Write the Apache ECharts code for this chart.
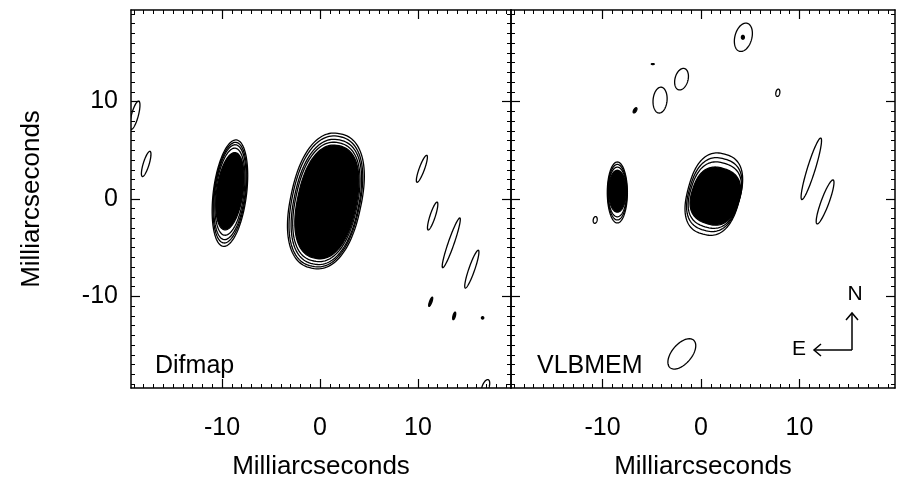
<!DOCTYPE html>
<html><head><meta charset="utf-8">
<script src="https://cdn.jsdelivr.net/npm/echarts@6/dist/echarts.min.js"></script>
<style>html,body{margin:0;padding:0;background:#fff}#c{width:903px;height:479px}</style>
</head><body><div id="c"></div>
<script>
// ---------- data ----------
const majorTicks = [-10, 0, 10];
const tickLabels = ['-10', '0', '10'];
const minorTicks = [-19,-18,-17,-16,-15,-14,-13,-12,-11,-9,-8,-7,-6,-5,-4,-3,-2,-1,1,2,3,4,5,6,7,8,9,11,12,13,14,15,16,17,18,19];
const axisTitle = 'Milliarcseconds';
const panelNames = ['Difmap', 'VLBMEM'];
const leftXRange = [-19.3, 19.5];
const rightXRange = [-19.3, 19.7];
const yRange = [-19.4, 19.4];

// contour shapes: [x, y, semi-major, semi-minor, position angle (deg, N through +x), filled, squareness (2 = ellipse)]
const difmapCores = [
  [0.7, -0.3, 5.9, 3.0, 12, 1, 2.3],
  [-9.2, 0.8, 4.0, 1.35, 8, 1, 2]
];
const difmapRings = [
  [0.65, -0.3, 6.2, 3.15, 12, 0, 2.3],
  [0.65, -0.3, 6.5, 3.3, 12, 0, 2.3],
  [0.6, -0.25, 6.8, 3.45, 12, 0, 2.3],
  [0.6, -0.2, 7.05, 3.6, 12, 0, 2.3],
  [-9.2, 0.75, 4.5, 1.45, 7, 0, 2],
  [-9.2, 0.7, 4.9, 1.55, 7, 0, 2],
  [-9.2, 0.65, 5.2, 1.62, 7, 0, 2],
  [-9.2, 0.6, 5.5, 1.7, 7, 0, 2]
];
const difmapSidelobes = [
  [-17.75, 3.6, 1.35, 0.3, 17, 0, 2],
  [-18.9, 8.6, 1.5, 0.35, 15, 0, 2],
  [10.4, 3.1, 1.47, 0.27, 20, 0, 2],
  [11.5, -1.75, 1.5, 0.27, 18, 0, 2],
  [13.4, -4.5, 2.7, 0.3, 19, 0, 2],
  [15.5, -7.2, 2.05, 0.3, 19, 0, 2],
  [11.3, -10.55, 0.5, 0.12, 20, 1, 2],
  [13.7, -12.0, 0.4, 0.12, 15, 1, 2],
  [16.6, -12.2, 0.12, 0.12, 0, 1, 2],
  [16.9, -19.3, 0.8, 0.35, 20, 0, 2]
];
const vlbmemCores = [
  [1.45, 0.3, 2.95, 2.4, 18, 1, 2.5],
  [-8.5, 0.8, 2.15, 0.9, 0, 1, 2]
];
const vlbmemRings = [
  [1.4, 0.4, 3.4, 2.5, 17, 0, 2.5],
  [1.35, 0.45, 3.8, 2.58, 16, 0, 2.5],
  [1.3, 0.5, 4.25, 2.66, 15, 0, 2.5],
  [-8.5, 0.72, 2.55, 0.95, 0, 0, 2],
  [-8.5, 0.7, 2.85, 0.98, 0, 0, 2],
  [-8.5, 0.67, 3.13, 1.02, 0, 0, 2]
];
const vlbmemSidelobes = [
  [-10.75, -2.15, 0.35, 0.2, 10, 0, 2],
  [4.3, 16.6, 1.49, 0.86, 15, 0, 2],
  [4.25, 16.6, 0.2, 0.15, 0, 1, 2],
  [-1.98, 12.3, 1.13, 0.66, 15, 0, 2],
  [-4.16, 10.15, 1.33, 0.71, 5, 0, 2],
  [-6.7, 9.1, 0.3, 0.14, 30, 1, 2],
  [7.8, 10.9, 0.38, 0.2, 10, 0, 2],
  [11.2, 3.1, 3.3, 0.4, 17, 0, 2],
  [12.6, -0.3, 2.4, 0.4, 20, 0, 2],
  [-1.95, -15.9, 1.85, 1.0, 40, 0, 2],
  [-4.9, 13.85, 0.15, 0.05, 90, 1, 2]
];

// ---------- chart ----------
const FONT = '"Liberation Sans", Arial, Helvetica, sans-serif';
const chart = echarts.init(document.getElementById('c'), null, {renderer: 'canvas'});

function spow(c, e) { return Math.sign(c) * Math.pow(Math.abs(c), e); }

function renderEllipse(params, api) {
  const cx = api.value(0), cy = api.value(1), a = api.value(2), b = api.value(3);
  const pa = api.value(4) * Math.PI / 180, filled = api.value(5), n = api.value(6) || 2;
  const pts = [];
  const N = 120;
  for (let i = 0; i < N; i++) {
    const t = 2 * Math.PI * i / N;
    const u = a * spow(Math.cos(t), 2 / n), v = b * spow(Math.sin(t), 2 / n);
    pts.push(api.coord([cx + u * Math.sin(pa) + v * Math.cos(pa), cy + u * Math.cos(pa) - v * Math.sin(pa)]));
  }
  return {type: 'polygon', shape: {points: pts},
    style: {fill: filled ? '#000' : 'none', stroke: '#000', lineWidth: 1.3}};
}

function axisSet(dim, g, range, withLabels) {
  const isX = dim === 'x';
  const sides = isX ? ['bottom', 'top'] : ['left', 'right'];
  const out = [];
  sides.forEach((pos, si) => {
    const labelled = withLabels && si === 0;
    out.push({
      gridIndex: g, type: 'value', min: range[0], max: range[1], position: pos,
      axisLine: {show: true, onZero: false, lineStyle: {color: '#000', width: 1.5}},
      axisTick: {show: true, inside: true, length: 4, customValues: minorTicks, lineStyle: {color: '#000', width: 1}},
      axisLabel: {show: false},
      splitLine: {show: false}
    });
    out.push({
      gridIndex: g, type: 'value', min: range[0], max: range[1], position: pos,
      axisLine: {show: false, onZero: false},
      axisTick: {show: true, inside: true, length: 9, customValues: majorTicks, lineStyle: {color: '#000', width: 1.2}},
      axisLabel: labelled ? {
        show: true, customValues: majorTicks, color: '#000', fontFamily: FONT, fontSize: 25,
        margin: isX ? 28 : 13,
        formatter: v => tickLabels[majorTicks.indexOf(v)]
      } : {show: false},
      splitLine: {show: false},
      name: labelled ? axisTitle : '',
      nameLocation: 'middle',
      nameGap: isX ? 66 : 86,
      nameTextStyle: {color: '#000', fontFamily: FONT, fontSize: 26}
    });
  });
  return out;
}

const xAxes = [].concat(axisSet('x', 0, leftXRange, true), axisSet('x', 1, rightXRange, true));
const yAxes = [].concat(axisSet('y', 0, yRange, true), axisSet('y', 1, yRange, false));

function ellipseSeries(data, xi, yi) {
  return {type: 'custom', xAxisIndex: xi, yAxisIndex: yi, data: data, clip: true,
    renderItem: renderEllipse, encode: {x: 0, y: 1}, silent: true, animation: false};
}

const option = {
  animation: false,
  backgroundColor: '#fff',
  grid: [
    {left: 131, top: 10, width: 380, height: 378, containLabel: false, outerBoundsMode: 'none'},
    {left: 511, top: 10, width: 384, height: 378, containLabel: false, outerBoundsMode: 'none'}
  ],
  xAxis: xAxes,
  yAxis: yAxes,
  series: [
    ellipseSeries(difmapRings, 1, 1),
    ellipseSeries(difmapCores, 1, 1),
    ellipseSeries(difmapSidelobes, 1, 1),
    ellipseSeries(vlbmemRings, 5, 5),
    ellipseSeries(vlbmemCores, 5, 5),
    ellipseSeries(vlbmemSidelobes, 5, 5)
  ],
  graphic: [
    {type: 'text', left: 155, top: 354, style: {text: panelNames[0], font: '25px ' + FONT, fill: '#000'}},
    {type: 'text', left: 537, top: 354, style: {text: panelNames[1], font: '25px ' + FONT, fill: '#000'}},
    {type: 'text', x: 855, y: 294, style: {text: 'N', font: '21px ' + FONT, fill: '#000', align: 'center', verticalAlign: 'middle'}},
    {type: 'text', x: 799, y: 349, style: {text: 'E', font: '21px ' + FONT, fill: '#000', align: 'center', verticalAlign: 'middle'}},
    {type: 'polyline', shape: {points: [[852, 350], [852, 313]]}, style: {stroke: '#000', lineWidth: 1.5, fill: null}},
    {type: 'polyline', shape: {points: [[846, 320], [852, 313], [858, 320]]}, style: {stroke: '#000', lineWidth: 1.5, fill: null}},
    {type: 'polyline', shape: {points: [[852, 350], [814, 350]]}, style: {stroke: '#000', lineWidth: 1.5, fill: null}},
    {type: 'polyline', shape: {points: [[821, 344], [814, 350], [821, 356]]}, style: {stroke: '#000', lineWidth: 1.5, fill: null}}
  ]
};
chart.setOption(option);
</script></body></html>
